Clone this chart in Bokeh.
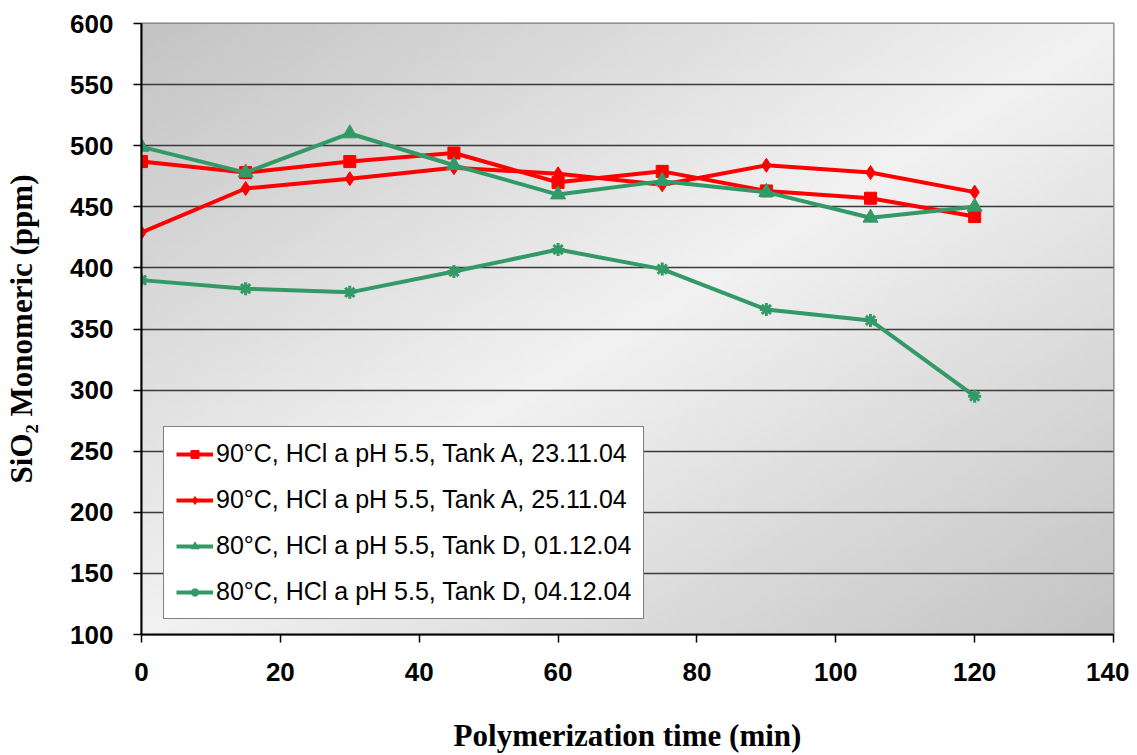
import numpy as np
from bokeh.plotting import figure
from bokeh.models import Legend, LegendItem, FixedTicker, Range1d
from bokeh.embed import file_html
from bokeh.resources import INLINE

# ---- data ----
time_min = [0, 15, 30, 45, 60, 75, 90, 105, 120]
tank_a_2311 = [487, 478, 487, 494, 470, 479, 463, 457, 442]
tank_a_2511 = [429, 465, 473, 482, 477, 468, 484, 478, 462]
tank_d_0112 = [499, 478, 510, 484, 460, 471, 462, 441, 450]
tank_d_0412 = [390, 383, 380, 397, 415, 399, 366, 357, 295]

labels = [
    "90°C, HCl a pH 5.5, Tank A, 23.11.04",
    "90°C, HCl a pH 5.5, Tank A, 25.11.04",
    "80°C, HCl a pH 5.5, Tank D, 01.12.04",
    "80°C, HCl a pH 5.5, Tank D, 04.12.04",
]
x_ticks = [0, 20, 40, 60, 80, 100, 120, 140]
y_ticks = [100, 150, 200, 250, 300, 350, 400, 450, 500, 550, 600]

RED = "#FF0000"
GREEN = "#339966"

p = figure(width=1129, height=755, output_backend="svg", toolbar_location=None,
           x_range=Range1d(0, 140), y_range=Range1d(100, 600),
           min_border_left=141, min_border_right=16, min_border_top=23, min_border_bottom=118)

# gradient background of plot area
ny, nx = 100, 140
yy, xx = np.mgrid[0:ny, 0:nx]
u = xx / (nx - 1)
v = yy / (ny - 1)
d = (u + (1 - v)) / 2.0
c = 196 + 46 * (1 - np.abs(2 * d - 1))
img = np.empty((ny, nx), dtype=np.uint32)
view = img.view(dtype=np.uint8).reshape((ny, nx, 4))
view[:, :, 0] = c.astype(np.uint8)
view[:, :, 1] = c.astype(np.uint8)
view[:, :, 2] = c.astype(np.uint8)
view[:, :, 3] = 255
p.image_rgba(image=[img], x=0, y=100, dw=140, dh=500, level="image")

p.background_fill_color = "#e8e8e8"
p.border_fill_color = "white"
p.outline_line_color = "#7a7a7a"
p.outline_line_width = 2

# grid
p.xgrid.grid_line_color = None
p.ygrid.grid_line_color = "#3a3a3a"
p.ygrid.grid_line_width = 1.5

# axes
p.xaxis.ticker = FixedTicker(ticks=x_ticks)
p.yaxis.ticker = FixedTicker(ticks=y_ticks)
for ax in (p.xaxis[0], p.yaxis[0]):
    ax.axis_line_color = "black"
    ax.axis_line_width = 2
    ax.major_tick_line_color = "black"
    ax.major_tick_line_width = 1.5
    ax.major_tick_in = 0
    ax.major_tick_out = 8
    ax.minor_tick_line_color = None
    ax.major_label_text_font = "Liberation Sans"
    ax.major_label_text_font_style = "bold"
    ax.major_label_text_font_size = "26px"
    ax.major_label_text_color = "black"
    ax.axis_label_text_font = "Liberation Serif"
    ax.axis_label_text_font_style = "bold"
    ax.axis_label_text_font_size = "31px"
    ax.axis_label_text_color = "black"

p.xaxis.axis_label = "Polymerization time (min)"
p.yaxis.axis_label = "SiO₂ Monomeric (ppm)"
p.xaxis.major_label_standoff = 20
p.yaxis.major_label_standoff = 20
p.xaxis.axis_label_standoff = 34
p.yaxis.axis_label_standoff = 28

LW = 4
l1 = p.line(time_min, tank_a_2311, line_color=RED, line_width=LW)
m1 = p.scatter(time_min, tank_a_2311, marker="square", size=12, fill_color=RED, line_color=RED)
l2 = p.line(time_min, tank_a_2511, line_color=RED, line_width=LW)
m2 = p.scatter(time_min, tank_a_2511, marker="diamond", size=14, fill_color=RED, line_color=RED)
l3 = p.line(time_min, tank_d_0112, line_color=GREEN, line_width=LW)
m3 = p.scatter(time_min, tank_d_0112, marker="triangle", size=15, fill_color=GREEN, line_color=GREEN)
l4 = p.line(time_min, tank_d_0412, line_color=GREEN, line_width=LW)
m4 = p.scatter(time_min, tank_d_0412, marker="asterisk", size=13, line_color=GREEN, line_width=3)

legend = Legend(items=[
    LegendItem(label=labels[0], renderers=[l1, m1]),
    LegendItem(label=labels[1], renderers=[l2, m2]),
    LegendItem(label=labels[2], renderers=[l3, m3]),
    LegendItem(label=labels[3], renderers=[l4, m4]),
], location=(22, 15))
legend.label_text_font = "Liberation Sans"
legend.label_text_font_size = "25px"
legend.label_text_color = "black"
legend.label_height = 26
legend.glyph_height = 20
legend.glyph_width = 37
legend.label_standoff = 3
legend.spacing = 17
legend.padding = 12
legend.margin = 0
legend.border_line_color = "black"
legend.border_line_width = 1.5
legend.background_fill_color = "white"
legend.background_fill_alpha = 1.0
p.add_layout(legend, "center")

open("out.html", "w").write(file_html(p, INLINE))
